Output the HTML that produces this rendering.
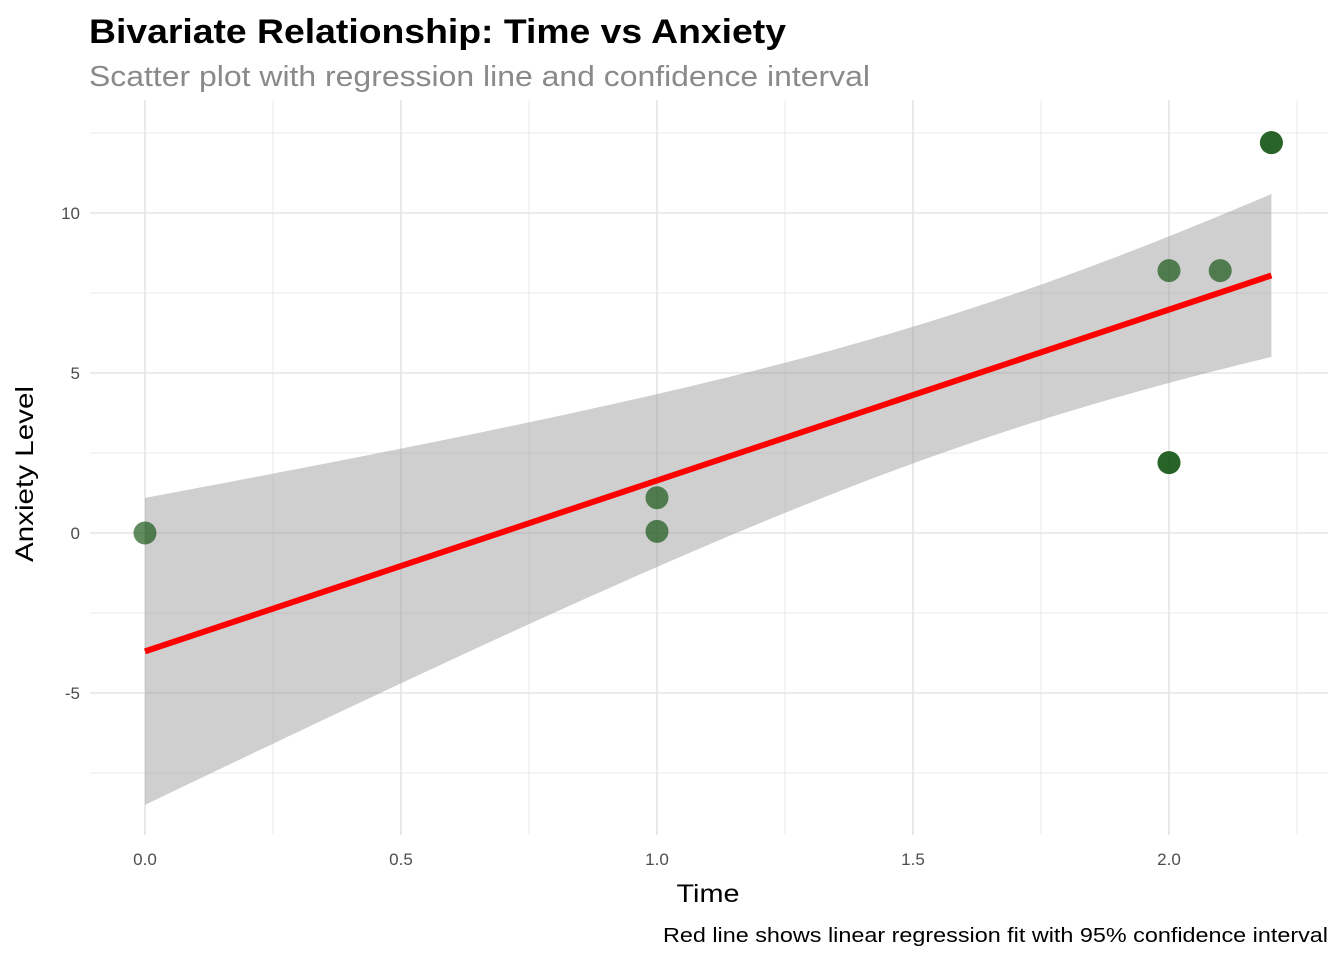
<!DOCTYPE html>
<html><head><meta charset="utf-8"><style>
body{margin:0;background:#fff;}
svg{display:block;font-family:"Liberation Sans",Arial,sans-serif;}
</style></head><body>
<svg id="chart" width="1344" height="960">
<text x="89" y="43" font-size="34" font-weight="bold" fill="#000" textLength="697" lengthAdjust="spacingAndGlyphs">Bivariate Relationship: Time vs Anxiety</text>
<text x="89" y="86" font-size="29" fill="#8a8a8a" textLength="781" lengthAdjust="spacingAndGlyphs">Scatter plot with regression line and confidence interval</text>
<g id="grid"></g><g id="band"></g><g id="pts"></g><g id="axes"></g>
<text x="708" y="902" font-size="25" text-anchor="middle" fill="#000" textLength="63" lengthAdjust="spacingAndGlyphs">Time</text>
<text transform="translate(33,474) rotate(-90)" font-size="25" text-anchor="middle" fill="#000" textLength="176" lengthAdjust="spacingAndGlyphs">Anxiety Level</text>
<text x="1328" y="942" font-size="20" text-anchor="end" fill="#000" textLength="665" lengthAdjust="spacingAndGlyphs">Red line shows linear regression fit with 95% confidence interval</text>
</svg>
<script>
const timeValues=[0,1,1,2,2.1,2,2,2.2,2.2];
const anxietyValues=[0,1.1,0.05,8.2,8.2,2.2,2.2,12.2,12.2];
const xTicks=[0,0.5,1,1.5,2];
const xTickLabels=["0.0","0.5","1.0","1.5","2.0"];
const yTicks=[-5,0,5,10];
const yTickLabels=["-5","0","5","10"];
const fitCoefficients=[-3.7,5.34];      // intercept, slope
const bandShape=[1.65,2.1,6.835];       // centre x, min half-width, curvature
const NS="http://www.w3.org/2000/svg";
const L=90,R=1328,T=100,B=835;
const sx=v=>145+v*512, sy=v=>533-v*32;
function mk(p,tag,a){const e=document.createElementNS(NS,tag);for(const k in a)e.setAttribute(k,a[k]);document.getElementById(p).appendChild(e);return e;}
for(let v=0;v<=2.3;v+=0.25){const major=Math.abs(v*2-Math.round(v*2))<1e-6;
 const g=mk('grid','line',{x1:sx(v),x2:sx(v),y1:T,y2:B,stroke:'#e5e5e5','stroke-width':major?1.6:0.8});
 
 }
for(let v=-7.5;v<=12.6;v+=2.5){const major=Math.abs(v/5-Math.round(v/5))<1e-6;
 const g=mk('grid','line',{x1:L,x2:R,y1:sy(v),y2:sy(v),stroke:'#e5e5e5','stroke-width':major?1.6:0.8});
 
 }
xTicks.forEach((v,i)=>{const t=mk('axes','text',{x:sx(v),y:865,'font-size':17,fill:'#4d4d4d','text-anchor':'middle'});t.textContent=xTickLabels[i];
 
 });
yTicks.forEach((v,i)=>{const t=mk('axes','text',{x:80,y:sy(v)+6,'font-size':17,fill:'#4d4d4d','text-anchor':'end'});t.textContent=yTickLabels[i];
 
 });
const b0=fitCoefficients[0],b1=fitCoefficients[1];
const xmin=Math.min(...timeValues),xmax=Math.max(...timeValues);
const up=[],lo=[];for(let k=0;k<=80;k++){const x=xmin+(xmax-xmin)*k/80;const f=b0+b1*x;
 const h=Math.sqrt(bandShape[1]**2+bandShape[2]*(x-bandShape[0])**2);
 up.push(sx(x)+','+sy(f+h));lo.unshift(sx(x)+','+sy(f-h));}
const band=mk('band','polygon',{points:up.concat(lo).join(' '),fill:'#999','fill-opacity':0.47});


const ln=mk('band','line',{x1:sx(xmin),y1:sy(b0+b1*xmin),x2:sx(xmax),y2:sy(b0+b1*xmax),stroke:'#ff0000','stroke-width':6});


timeValues.forEach((x,i)=>{const c=mk('pts','circle',{cx:sx(x),cy:sy(anxietyValues[i]),r:11.5,fill:'#0b4f0b','fill-opacity':0.65});
 
 });
</script>
</body></html>
